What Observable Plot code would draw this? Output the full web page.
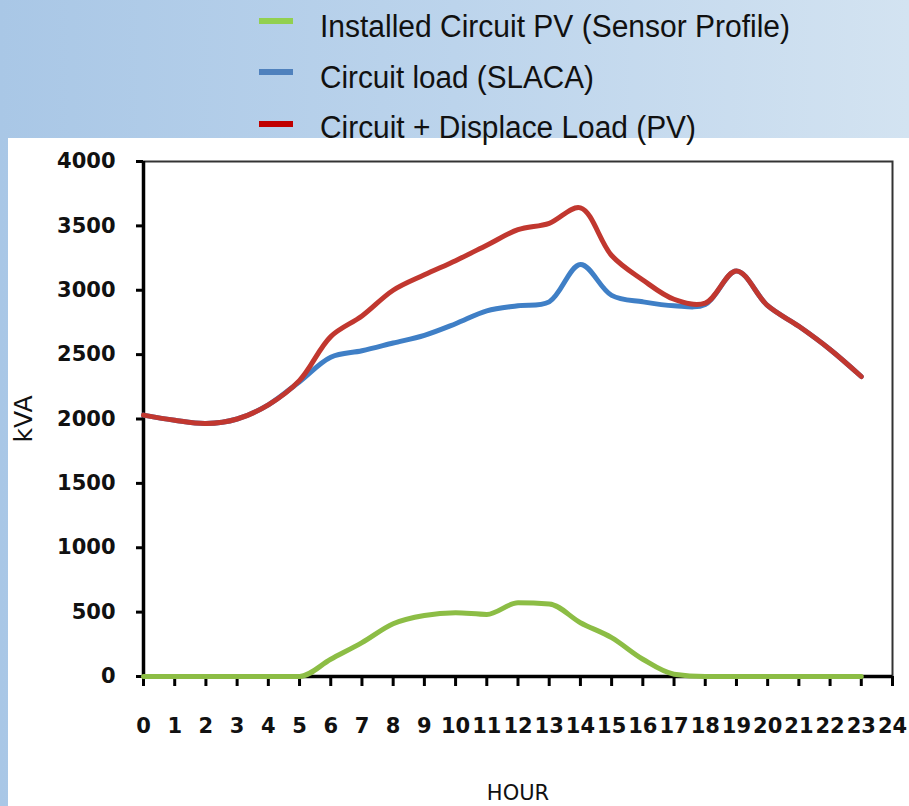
<!DOCTYPE html>
<html>
<head>
<meta charset="utf-8">
<script src="https://cdn.jsdelivr.net/npm/d3@7"></script>
<script src="https://cdn.jsdelivr.net/npm/@observablehq/plot@0.6"></script>
<style>
  html, body { margin: 0; padding: 0; }
  #wrap { position: relative; width: 909px; height: 806px; overflow: hidden;
    background: linear-gradient(to right, #a9c7e6 0%, #bcd4ec 50%, #d3e3f1 100%); }
  #panel { position: absolute; left: 8px; top: 138px; right: 0; bottom: 0; background: #fff; }
  #chart { position: absolute; left: 0; top: 0; }
  #legend { position: absolute; left: 0; top: 0; }
</style>
</head>
<body>
<div id="wrap">
  <div id="panel"></div>
  <div id="chart"></div>
  <svg id="legend" width="909" height="160"></svg>
</div>
<script>
const hours = [0,1,2,3,4,5,6,7,8,9,10,11,12,13,14,15,16,17,18,19,20,21,22,23];
const pvInstalled = [0,0,0,0,0,0,134,263,410,474,495,482,572,564,418,302,134,18,0,0,0,0,0,0];
const circuitLoad = [2030,1990,1965,2000,2110,2290,2480,2530,2590,2650,2740,2840,2880,2910,3200,2960,2910,2880,2890,3150,2880,2720,2540,2330];
const circuitDisplaced = [2030,1990,1965,2000,2110,2300,2640,2800,3000,3120,3230,3350,3470,3520,3640,3270,3080,2930,2900,3150,2880,2720,2540,2330];
const xTicks = [0,1,2,3,4,5,6,7,8,9,10,11,12,13,14,15,16,17,18,19,20,21,22,23,24];
const yTicks = [0,500,1000,1500,2000,2500,3000,3500,4000];
const seriesNames = ["Installed Circuit PV (Sensor Profile)", "Circuit load (SLACA)", "Circuit + Displace Load (PV)"];
const lineColors = ["#8cbd45", "#3f7fc6", "#c1372f"];
const swatchColors = ["#92d050", "#4f81bd", "#c00000"];

const toRows = (arr, s) => hours.map((h, i) => ({hour: h, kva: arr[i], series: seriesNames[s]}));
const pvRows = toRows(pvInstalled, 0);
const loadRows = toRows(circuitLoad, 1).concat(toRows(circuitDisplaced, 2));

const chart = Plot.plot({
  width: 909,
  height: 806,
  marginLeft: 143,
  marginRight: 17,
  marginTop: 161,
  marginBottom: 130,
  style: {background: "transparent", fontFamily: "DejaVu Sans", color: "#111", overflow: "visible"},
  x: {domain: [0, 24], label: null},
  y: {domain: [0, 4000], label: null},
  color: {domain: seriesNames, range: lineColors},
  marks: [
    Plot.frame({stroke: "#333", strokeWidth: 2}),
    Plot.axisY({ticks: yTicks, tickSize: 7, tickPadding: 21, fontSize: 21, fontWeight: "bold",
      stroke: "#000", strokeWidth: 3, label: null, tickFormat: d => String(d)}),
    Plot.axisX({ticks: xTicks, tickSize: 10, tickPadding: 32, fontSize: 21, fontWeight: "bold",
      stroke: "#000", strokeWidth: 3, label: null, tickFormat: d => String(d)}),
    Plot.ruleX([0], {stroke: "#000", strokeWidth: 3.5}),
    Plot.ruleY([0], {stroke: "#000", strokeWidth: 3.5}),
    Plot.line(loadRows, {x: "hour", y: "kva", z: "series", stroke: "series",
      strokeWidth: 5, curve: "catmull-rom", strokeLinecap: "round"}),
    Plot.line(pvRows, {x: "hour", y: "kva", stroke: "series",
      strokeWidth: 5, curve: "monotone-x", strokeLinecap: "round"}),
    Plot.text(["kVA"], {frameAnchor: "left", dx: -120, rotate: -90, text: d => d,
      textAnchor: "middle", lineAnchor: "middle", fontSize: 25, fill: "#111"}),
    Plot.text(["HOUR"], {frameAnchor: "bottom", dy: 123, text: d => d,
      textAnchor: "middle", lineAnchor: "bottom", fontSize: 21, fill: "#111"})
  ]
});
document.getElementById("chart").appendChild(chart);

// legend
const legend = d3.select("#legend");
const baselines = [37, 88, 138];
const swatchY = [21, 72, 124];
const textWidths = [470, 274, 376];
seriesNames.forEach((name, i) => {
  legend.append("rect").attr("x", 259).attr("y", swatchY[i] - 3).attr("width", 34).attr("height", 6)
    .attr("fill", swatchColors[i]);
  legend.append("text").attr("x", 320).attr("y", baselines[i])
    .attr("font-family", "'Liberation Sans', Arial, sans-serif")
    .attr("font-size", 31).attr("fill", "#111")
    .attr("textLength", textWidths[i]).attr("lengthAdjust", "spacingAndGlyphs")
    .text(name);
});
</script>
</body>
</html>
